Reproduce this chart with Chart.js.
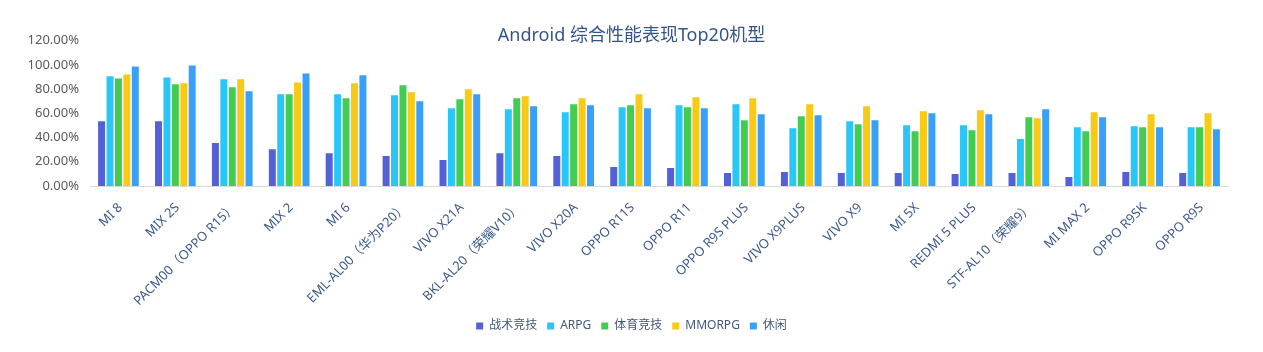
<!DOCTYPE html>
<html>
<head>
<meta charset="utf-8">
<script src="https://cdn.jsdelivr.net/npm/chart.js@4/dist/chart.umd.min.js"></script>
<style>
  html, body { margin: 0; padding: 0; background: #fff; }
  #wrap { width: 1263px; height: 352px; }
</style>
</head>
<body>
<div id="wrap"><canvas id="chart" width="1263" height="352"></canvas></div>
<script>
// data (percent)
const models = [
  "MI 8", "MIX 2S", "PACM00（OPPO R15）", "MIX 2", "MI 6",
  "EML-AL00（华为P20）", "VIVO X21A", "BKL-AL20（荣耀V10）", "VIVO X20A", "OPPO R11S",
  "OPPO R11", "OPPO R9S PLUS", "VIVO X9PLUS", "VIVO X9", "MI 5X",
  "REDMI 5 PLUS", "STF-AL10（荣耀9）", "MI MAX 2", "OPPO R9SK", "OPPO R9S"
];
const tactical = [53.5, 53.5, 35.4, 30.4, 27.1, 24.7, 21.4, 27.1, 24.7, 15.6, 14.8, 10.7, 11.5, 10.7, 10.7, 9.9, 10.7, 7.4, 11.5, 10.7];
const arpg     = [90.5, 89.6, 88.0, 75.7, 75.7, 74.8, 64.1, 63.3, 60.9, 65.0, 66.6, 67.4, 47.7, 53.5, 50.2, 50.2, 38.7, 48.5, 49.3, 48.5];
const sports   = [88.8, 83.9, 81.4, 75.7, 72.4, 83.1, 71.5, 72.4, 67.4, 66.6, 65.0, 54.3, 57.6, 51.0, 45.2, 46.1, 56.7, 45.2, 48.5, 48.5];
const mmorpg   = [92.1, 84.7, 88.0, 85.5, 84.7, 77.3, 79.8, 74.0, 72.4, 75.7, 73.2, 72.4, 67.4, 65.8, 61.7, 62.5, 55.9, 60.9, 59.2, 60.0];
const casual   = [98.7, 99.5, 78.1, 92.9, 91.3, 69.9, 75.7, 65.8, 66.6, 64.1, 64.1, 59.2, 58.4, 54.3, 60.0, 59.2, 63.3, 56.7, 48.5, 46.9];

const seriesNames = ["战术竞技", "ARPG", "体育竞技", "MMORPG", "休闲"];
const seriesColors = ["#5461d6", "#29c6f8", "#43cc52", "#f8c915", "#3a9efb"];
const yTicks = [0, 20, 40, 60, 80, 100, 120];

const FONT = '"Noto Sans", "Noto Sans CJK SC", sans-serif';

new Chart(document.getElementById("chart"), {
  type: "bar",
  data: {
    labels: models,
    datasets: [tactical, arpg, sports, mmorpg, casual].map((d, i) => ({
      label: seriesNames[i],
      data: d,
      backgroundColor: seriesColors[i],
      categoryPercentage: 0.74,
      barPercentage: 0.83,
    })),
  },
  options: {
    responsive: false,
    devicePixelRatio: 1,
    animation: false,
    layout: { padding: { left: 0, right: 0, top: 0, bottom: 10 } },
    scales: {
      x: {
        grid: { display: false },
        border: { display: true, color: "#d9d9d9", width: 1 },
        ticks: {
          color: "#3d5a8c",
          font: { family: FONT, size: 13 },
          minRotation: 45,
          maxRotation: 45,
          autoSkip: false,
          padding: 6,
          labelOffset: 2,
        },
        afterFit: (scale) => { scale.height = 124; },
      },
      y: {
        min: 0,
        max: 120,
        grid: { display: false },
        border: { display: false },
        afterBuildTicks: (scale) => { scale.ticks = yTicks.map(v => ({ value: v })); },
        ticks: {
          color: "#595959",
          font: { family: FONT, size: 13 },
          padding: 3,
          callback: (v) => v.toFixed(2) + "%",
        },
        afterFit: (scale) => { scale.width = 90; },
      },
      // empty right-hand axis, only keeps the plot clear of the right edge
      yRight: {
        position: "right",
        grid: { display: false },
        border: { display: false },
        ticks: { display: false },
        afterFit: (scale) => { scale.width = 35; },
      },
    },
    plugins: {
      title: {
        display: true,
        text: "Android 综合性能表现Top20机型",
        color: "#35558a",
        font: { family: FONT, size: 18, weight: "normal" },
        padding: { top: 25, bottom: -6 },
      },
      legend: {
        position: "bottom",
        labels: {
          color: "#44587e",
          font: { family: FONT, size: 12 },
          boxWidth: 7,
          boxHeight: 7,
          padding: 10,
        },
      },
      tooltip: { enabled: false },
    },
  },
});
</script>
</body>
</html>
